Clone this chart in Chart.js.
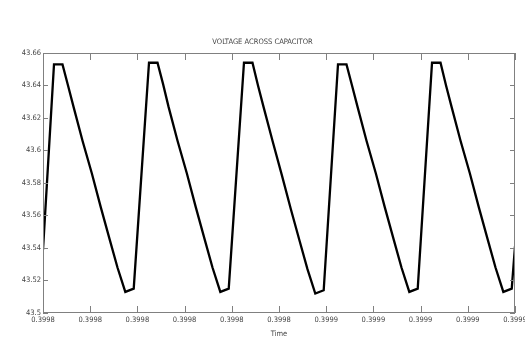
<!DOCTYPE html>
<html>
<head>
<meta charset="utf-8">
<script src="https://cdn.jsdelivr.net/npm/chart.js@4.4.1/dist/chart.umd.min.js"></script>
<style>
  html, body { margin: 0; padding: 0; background: #fff; }
  #wrap { width: 525px; height: 347px; }
</style>
</head>
<body>
<div id="wrap"><canvas id="vcap"></canvas></div>
<script>
// time axis runs 0..10 (one unit per tick), labels as printed on the plot
const xTickLabels = ["0.3998", "0.3998", "0.3998", "0.3998", "0.3998", "0.3998",
  "0.3999", "0.3999", "0.3999", "0.3999", "0.3999"];
const yTicks = [43.5, 43.52, 43.54, 43.56, 43.58, 43.6, 43.62, 43.64, 43.66];

const time = [
  0,
  0.233, 0.413, 0.530, 0.646, 0.837, 1.034, 1.225, 1.415, 1.578, 1.744, 1.922,
  2.246, 2.426, 2.543, 2.659, 2.850, 3.047, 3.238, 3.428, 3.591, 3.757, 3.935,
  4.258, 4.438, 4.555, 4.671, 4.862, 5.059, 5.250, 5.440, 5.603, 5.769, 5.947,
  6.250, 6.430, 6.547, 6.663, 6.854, 7.051, 7.242, 7.432, 7.595, 7.761, 7.939,
  8.242, 8.422, 8.539, 8.655, 8.846, 9.043, 9.234, 9.424, 9.587, 9.753, 9.931,
  10
];
const voltage = [
  43.539,
  43.653, 43.653, 43.640, 43.627, 43.606, 43.586, 43.565, 43.545, 43.528, 43.513, 43.515,
  43.654, 43.654, 43.641, 43.627, 43.606, 43.586, 43.565, 43.545, 43.528, 43.513, 43.515,
  43.654, 43.654, 43.640, 43.627, 43.606, 43.585, 43.564, 43.544, 43.527, 43.512, 43.514,
  43.653, 43.653, 43.640, 43.627, 43.606, 43.586, 43.565, 43.545, 43.528, 43.513, 43.515,
  43.654, 43.654, 43.640, 43.627, 43.606, 43.586, 43.565, 43.545, 43.528, 43.513, 43.515,
  43.541
];

const smallFont = { family: "'Liberation Sans Narrow', 'DejaVu Sans Condensed', 'Arial Narrow', sans-serif", size: 7.5, weight: "normal" };

// matlab style: box round the axes, ticks pointing inward on all four sides
const innerTicks = {
  id: "innerTicks",
  afterDatasetsDraw(chart) {
    const { ctx, chartArea: a, scales } = chart;
    ctx.save();
    ctx.strokeStyle = "#808080";
    ctx.lineWidth = 1;
    ctx.strokeRect(a.left + 0.5, a.top + 0.5, a.right - a.left - 1, a.bottom - a.top - 1);
    ctx.beginPath();
    scales.x.ticks.forEach((t) => {
      const px = Math.round(scales.x.getPixelForValue(t.value)) + 0.5;
      ctx.moveTo(px, a.bottom); ctx.lineTo(px, a.bottom - 7);
      ctx.moveTo(px, a.top); ctx.lineTo(px, a.top + 7);
    });
    scales.y.ticks.forEach((t) => {
      const py = Math.round(scales.y.getPixelForValue(t.value)) + 0.5;
      ctx.moveTo(a.left, py); ctx.lineTo(a.left + 5, py);
      ctx.moveTo(a.right, py); ctx.lineTo(a.right - 5, py);
    });
    ctx.stroke();
    ctx.restore();
  },
};

new Chart(document.getElementById("vcap"), {
  type: "line",
  data: {
    datasets: [
      {
        label: "Voltage",
        data: time.map((t, i) => ({ x: t, y: voltage[i] })),
        borderColor: "#000",
        borderWidth: 2.3,
        pointRadius: 0,
        tension: 0,
        fill: false,
      },
    ],
  },
  options: {
    responsive: true,
    maintainAspectRatio: false,
    animation: false,
    layout: { padding: { left: 0, right: 0, top: 0, bottom: 8 } },
    plugins: {
      legend: { display: false },
      tooltip: { enabled: false },
      title: {
        display: true,
        text: "VOLTAGE ACROSS CAPACITOR",
        color: "#444",
        font: smallFont,
        padding: { top: 38, bottom: 6 },
      },
    },
    scales: {
      x: {
        type: "linear",
        min: 0,
        max: 10,
        border: { display: false },
        grid: { display: false, drawTicks: false },
        ticks: {
          stepSize: 1,
          color: "#444",
          font: smallFont,
          padding: 3,
          maxRotation: 0,
          autoSkip: false,
          callback: (v) => xTickLabels[Math.round(v)],
        },
        title: { display: true, text: "Time", color: "#444", font: smallFont, padding: 0 },
        afterFit: (s) => { s.height = 26; s.paddingLeft = 0; s.paddingRight = 10; },
      },
      y: {
        min: yTicks[0],
        max: yTicks[yTicks.length - 1],
        border: { display: false },
        grid: { display: false, drawTicks: false },
        afterBuildTicks: (s) => { s.ticks = yTicks.map((v) => ({ value: v })); },
        ticks: {
          color: "#444",
          font: smallFont,
          padding: 2,
          callback: (v) => String(Number(v.toFixed(2))),
        },
        afterFit: (s) => { s.width = 43; },
      },
    },
  },
  plugins: [innerTicks],
});
</script>
</body>
</html>
